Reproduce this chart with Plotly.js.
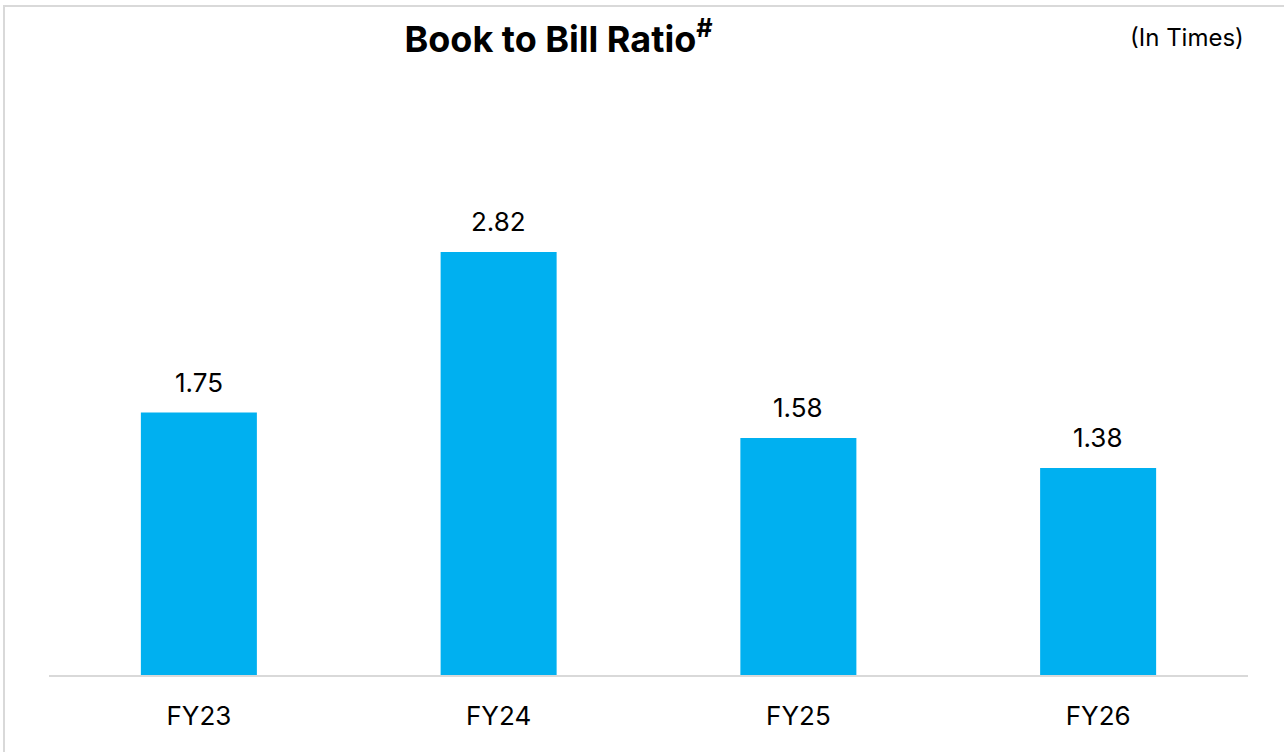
<!DOCTYPE html>
<html><head><meta charset="utf-8">
<script src="https://cdn.plot.ly/plotly-3.0.1.min.js"></script>
<style>
html,body{margin:0;padding:0;background:#fff;}
#wrap{position:relative;width:1284px;height:752px;}
#chart{width:1284px;height:752px;}
#frame{position:absolute;left:3px;top:5px;right:-2px;bottom:-2px;border-left:2px solid #d9d9d9;border-top:2px solid #d9d9d9;pointer-events:none;}
</style></head>
<body><div id="wrap"><div id="chart"></div><div id="frame"></div></div>
<script>
const categories = ["FY23", "FY24", "FY25", "FY26"];
const ratios = [1.75, 2.82, 1.58, 1.38];
const labels = ["1.75", "2.82", "1.58", "1.38"];

const font = "Inter, 'Noto Sans', Arial, sans-serif";
const trace = {
  type: "bar", x: categories, y: ratios,
  marker: {color: "#00B0F0"}, hoverinfo: "none"
};
const annotations = categories.map((c, i) => ({
  x: c, y: ratios[i], xref: "x", yref: "y", text: labels[i],
  showarrow: false, yanchor: "bottom", yshift: 13,
  font: {family: font, size: 26, color: "#000"}
}));
annotations.push({
  xref: "paper", yref: "paper", x: 0.998, y: 1.063, xanchor: "right", yanchor: "middle",
  text: "(In Times)", showarrow: false, font: {family: font, size: 24, color: "#000"}
});
const layout = {
  width: 1284, height: 752,
  margin: {l: 49, r: 36, t: 75, b: 77},
  paper_bgcolor: "#fff", plot_bgcolor: "#fff",
  title: {text: "Book to Bill Ratio<sup>#</sup>", x: 0.435, xanchor: "center", y: 0.948, yanchor: "middle",
          font: {family: font, size: 36, color: "#000", weight: 700}},
  bargap: 0.613,
  xaxis: {showline: true, linecolor: "#d9d9d9", linewidth: 2, ticks: "", showgrid: false,
          tickfont: {family: font, size: 26, color: "#000"}, ticklabelstandoff: 17},
  yaxis: {range: [0, 4.0], visible: false, showgrid: false, zeroline: false},
  annotations: annotations,
  showlegend: false
};
Plotly.newPlot("chart", [trace], layout, {staticPlot: true, displayModeBar: false});
</script></body></html>
